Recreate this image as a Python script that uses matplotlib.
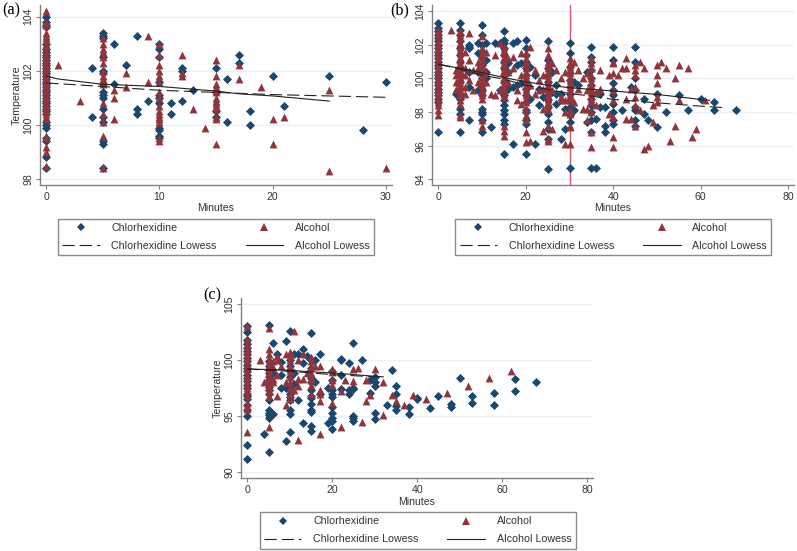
import matplotlib
matplotlib.use('Agg')
import matplotlib.pyplot as plt
from matplotlib.lines import Line2D

plt.rcParams['font.family'] = ['Liberation Sans', 'DejaVu Sans']

# (a) minutes and the temperatures read at each minute
a_chx_min = [0, 4, 5, 6, 7, 8, 9, 10, 11, 12, 13, 15, 16, 17, 18, 20, 21, 25, 28, 30]
a_chx_temp = [
    [98.4, 98.8, 99.4, 99.5, 99.9, 100, 100.1, 100.4, 100.5, 100.6, 100.7, 100.8, 100.9, 101, 101.1, 101.2,
     101.3, 101.4, 101.5, 101.6, 101.7, 101.8, 101.9, 102, 102.1, 102.2, 102.3, 102.4, 102.5, 102.6, 102.7,
     102.8, 103, 103.6, 103.7, 103.8, 104],
    [100.3, 102.1],
    [98.4, 99.3, 99.4, 100.1, 100.3, 100.6, 101, 101.1, 101.2, 101.5, 101.9, 102, 102.5, 103.2, 103.3, 103.4],
    [101.5, 103], [102.2], [100.4, 100.6, 103.3], [100.9],
    [99.5, 99.6, 99.8, 99.9, 100.8, 101, 101.1, 101.6, 102.5, 102.8, 103],
    [100.4, 100.8], [100.9, 102, 102.1], [101.3], [100.3, 100.5, 101.2, 102.1],
    [100.1, 101.7], [102.3, 102.6], [100, 100.5], [101.8], [100.7], [101.8], [99.8], [101.6],
]
a_alc_min = [0, 1, 3, 5, 6, 7, 9, 10, 12, 13, 14, 15, 17, 19, 20, 21, 25, 30]
a_alc_temp = [
    [98.5, 99, 99.2, 99.5, 99.6, 100.2, 100.3, 100.4, 100.5, 100.6, 100.7, 100.8, 100.9, 101, 101.1, 101.2,
     101.3, 101.4, 101.5, 101.6, 101.7, 101.8, 101.9, 102, 102.1, 102.2, 102.3, 102.4, 102.5, 102.6, 102.7,
     102.9, 103, 103.1, 103.2, 103.3, 103.4, 103.7, 103.8, 104.2],
    [102.2], [100.9],
    [98.4, 99.6, 100.1, 100.4, 100.8, 101.5, 101.7, 101.8, 102, 102.3, 102.5, 102.7, 102.8, 103, 103.2],
    [100.2, 101, 101.3], [101.4, 101.9], [101.6, 103.3],
    [99.4, 99.5, 100.1, 100.2, 100.3, 100.4, 100.5, 100.7, 101, 101.2, 101.6, 101.8, 102, 102.2, 102.6, 103],
    [101.8, 101.9, 102.6], [100.6], [99.9],
    [99.3, 100.2, 100.3, 100.6, 100.7, 100.8, 100.9, 101, 101.2, 101.3, 101.4, 101.5, 101.8, 102.4],
    [101.7, 102.2], [101.4], [99.3, 100.2], [100.3], [98.3, 101.3], [98.4],
]
a_chx_low_x = [0, 5, 10, 15, 20, 25, 30]
a_chx_low_y = [101.55, 101.42, 101.28, 101.2, 101.12, 101.07, 101.02]
a_alc_low_x = [0, 1, 5, 10, 15, 17, 20, 25]
a_alc_low_y = [101.8, 101.7, 101.5, 101.42, 101.25, 101.15, 101.07, 100.88]

# (b)
b_chx_min = [0, 4, 5, 7, 9, 10, 11, 12, 13, 14, 15, 16, 17, 18, 19, 20, 21, 22, 23, 24, 25, 26, 27, 28, 29, 30,
             31, 32, 34, 35, 36, 37, 38, 40, 42, 44, 45, 47, 48, 50, 52, 55, 57, 60, 63, 68]
b_chx_temp = [
    [96.8, 98.6, 98.8, 99, 99.2, 99.4, 99.6, 99.8, 100, 100.2, 100.4, 100.6, 100.8, 101, 101.2, 101.4, 101.6,
     101.8, 102, 102.2, 102.4, 102.6, 102.8, 103, 103.3],
    [99.1],
    [96.8, 97.9, 98.2, 98.8, 99, 99.1, 99.4, 99.8, 100.2, 100.6, 101, 101.4, 101.8, 102.2, 102.6, 102.9, 103.3],
    [97.5, 99.5, 100.4, 101.8, 101.9, 102], [99.3, 100.4, 101.5, 102.1],
    [96.8, 97.5, 97.9, 98, 98.2, 99, 99.3, 99.6, 100, 100.4, 100.8, 101.2, 101.6, 102, 102.6, 103.2],
    [100, 100.4, 101.1, 102.1], [97.1], [102.1], [99.3, 102.1],
    [95.5, 97.3, 97.5, 97.9, 98.1, 98.4, 98.7, 99, 99.4, 99.8, 100.2, 100.6, 101, 101.4, 101.8, 102.1, 102.3, 102.8],
    [99.4, 100.4, 100.9], [96.1, 99.5, 102.1], [99.6, 100.8, 102.2], [99.7, 100.9],
    [95.5, 97.3, 97.5, 98, 98.1, 98.6, 99, 99.4, 99.8, 100.2, 100.6, 101, 101.4, 101.8, 102.3],
    [98.8, 100.7], [96.1, 100.2], [98.4, 99.4], [98.9],
    [94.6, 96.4, 97, 97.4, 97.9, 98.3, 98.7, 99, 99.4, 99.8, 100.2, 100.6, 101.1, 102.2],
    [99.2, 100.4], [98.5, 99.1, 99.6], [96.4, 99.1], [97, 98.2],
    [94.7, 97.4, 97.8, 98.1, 98.3, 98.7, 99.1, 99.5, 99.9, 100.3, 100.7, 101.5, 102.1],
    [98.1, 99.8], [99.6], [97.4, 100.4],
    [94.7, 96.8, 97.5, 98, 98.4, 98.8, 99.2, 99.6, 100, 100.5, 101, 101.3, 101.9],
    [94.7, 97.6], [98.3, 99.1], [96.8, 97.2, 98.3],
    [97.3, 97.5, 98, 98.5, 99, 99.3, 99.7, 101.1, 101.9], [98.1], [99.5],
    [97.2, 97.5, 98.1, 98.3, 99.3, 100, 101, 101.9], [97.9, 98.8], [97.5], [97.1, 99.1], [98], [99], [98.1],
    [98.8], [98.1, 98.6], [98.1],
]
b_alc_min = [0, 3, 4, 5, 6, 7, 8, 9, 10, 11, 12, 13, 14, 15, 16, 17, 18, 19, 20, 21, 22, 23, 24, 25, 26, 27, 28, 29,
             30, 31, 32, 33, 34, 35, 36, 37, 39, 40, 41, 42, 43, 44, 45, 46, 47, 48, 49, 50, 51, 52, 53, 54, 55,
             57, 58, 59, 61]
b_alc_temp = [
    [97.8, 98.1, 98.4, 98.6, 98.8, 99, 99.2, 99.4, 99.6, 99.8, 100, 100.2, 100.4, 100.6, 100.8, 101, 101.2,
     101.4, 101.6, 101.8, 102, 102.2, 102.5, 102.7, 102.9],
    [102.9],
    [99.4, 99.8, 100.2, 100.5],
    [97.7, 97.8, 98.5, 98.7, 99, 99.2, 99.3, 99.5, 99.7, 99.9, 100.1, 100.3, 100.5, 100.7, 100.9, 101.1, 101.3,
     101.5, 101.7, 101.9, 102.1, 102.4, 102.6, 102.8],
    [99.1, 99.5, 100.2, 100.6, 101.6], [99.9, 101.1, 102.7], [99.3, 100.5], [99.8, 100.6, 101],
    [97.2, 97.5, 98.8, 99, 99.2, 99.4, 99.6, 99.8, 100, 100.2, 100.4, 100.6, 100.8, 101, 101.2, 101.4, 101.6,
     101.8, 102.5],
    [99.8, 100.3, 101.6], [99.1], [99, 101.4], [99.3, 102.1],
    [96.6, 96.9, 97.2, 98.9, 99.1, 99.3, 99.5, 99.7, 99.9, 100.1, 100.3, 100.5, 100.7, 100.9, 101.1, 101.3, 101.5,
     101.7, 101.9],
    [99.8, 100.4, 101.2], [100.6, 101.3], [98.7, 99.3], [98.5, 100.2, 101.5],
    [96.2, 96.8, 97.5, 97.8, 98.2, 98.6, 98.8, 99, 99.2, 99.4, 99.6, 99.8, 100, 100.2, 100.4, 100.6, 100.8, 101,
     101.2, 101.5],
    [96.3, 99.6, 101.9], [99.1, 100.5], [99.3, 99.9], [96.9, 98.2, 99.4, 100.2],
    [96.3, 96.4, 97.2, 98.2, 98.4, 98.6, 98.8, 99, 99.2, 99.4, 99.6, 99.8, 100, 100.2, 100.4, 100.6, 100.8, 101,
     101.4, 101.8],
    [97, 99.3, 100.9], [100.5], [98.7, 98.9, 100], [96.1, 98, 98.7, 100.4],
    [96.1, 97.1, 97.2, 97.9, 98.1, 98.7, 98.9, 99.1, 99.3, 99.5, 99.7, 99.9, 100.1, 100.3, 100.5, 100.7, 100.9, 101.2],
    [98.6, 101], [99.4, 100.5], [98.2, 100], [97.5, 98.2, 99.3, 100.3],
    [95.9, 96.8, 98, 98.6, 98.8, 99, 99.2, 99.4, 99.6, 99.8, 100, 100.2, 100.6, 100.9, 101.2],
    [98.4, 99.2], [99.4, 100.5], [97.9, 100.2], [95.9, 96.5, 97.7, 98.7, 99.3, 100.3, 100.9, 101], [100.2], [100.6],
    [97.6, 98.8, 100.6, 101.2], [97.6, 99.4], [97.2, 98.4, 98.9, 99.5, 100.2, 100.5, 100.8], [98.1, 101],
    [95.8, 100.6], [96], [97.4, 98.4], [98.6, 98.9, 99.7, 100.2, 100.8], [101], [100.6], [96.3], [97.2, 100],
    [98.7, 100.8], [100.6], [96.5], [97], [98.7],
]
b_chx_low_x = [0, 5, 10, 15, 20, 25, 30, 35, 40, 45, 50, 55, 60, 66]
b_chx_low_y = [100.85, 100.55, 100.2, 99.95, 99.6, 99.35, 99.1, 98.95, 98.75, 98.65, 98.55, 98.45, 98.35, 98.25]
b_alc_low_x = [0, 5, 10, 15, 20, 25, 30, 35, 40, 45, 50, 55, 60, 62]
b_alc_low_y = [100.85, 100.6, 100.35, 100.05, 99.8, 99.6, 99.45, 99.35, 99.25, 99.15, 99.05, 98.9, 98.75, 98.7]
b_ref_line = 30

# (c)
c_chx_min = [0, 4, 5, 6, 7, 8, 9, 10, 11, 12, 13, 14, 15, 16, 17, 19, 20, 22, 24, 25, 27, 29, 30, 33, 34, 35,
             38, 40, 43, 45, 48, 50, 53, 58, 63, 68]
c_chx_temp = [
    [91.2, 92.4, 95, 95.5, 96, 96.5, 96.8, 97, 97.5, 97.8, 98.1, 98.4, 98.7, 99, 99.3, 99.6, 99.9, 100.2, 100.5,
     100.8, 101.1, 101.4, 101.8, 102.5, 103],
    [93.4],
    [91.8, 94.8, 95.1, 95.3, 95.5, 96.4, 97, 97.3, 97.6, 97.9, 98.2, 98.5, 98.8, 99.1, 99.5, 99.9, 103.1],
    [95.2, 98.8, 101.5], [100.5], [97.5, 98.7, 99.8], [92.8, 97.5, 101.7],
    [93.6, 95.2, 95.5, 96.4, 96.7, 97, 97.5, 98.5, 99, 99.5, 100, 102.6],
    [97.9, 98.8, 100.5], [96.4, 100.5], [94.4, 99.7, 101], [100.4],
    [93.7, 94.1, 95.4, 95.5, 96.1, 96.6, 96.8, 97.3, 98, 98.4, 99.3, 100, 102.4],
    [98, 100], [97, 100.5], [94.4, 97.5], [93.8, 94.6, 94.8, 95.3, 95.8, 96.7, 97, 97.3, 98.2, 99],
    [97.4, 98.7, 100, 100.1], [97, 97.3, 99.7], [94.6, 94.8, 95, 97.4, 97.5, 101.5], [100], [97.1, 98.2],
    [94.7, 95.3, 97.7, 98, 98.5], [96], [99.1], [95.5, 95.9, 97, 97.7], [95.2, 95.8], [96.5, 96.6], [95.7],
    [96.8], [95.8, 96.1], [98.4], [96.2, 96.8], [96, 97.1], [97.2, 98.3], [98],
]
c_alc_min = [0, 3, 4, 5, 6, 7, 8, 9, 10, 11, 12, 13, 14, 15, 16, 17, 20, 22, 23, 25, 26, 27, 28, 29, 30, 32, 34,
             35, 37, 39, 42, 47, 52, 57, 62]
c_alc_temp = [
    [93.6, 95.6, 95.9, 96.2, 96.8, 97.2, 97.5, 97.8, 98.1, 98.4, 98.7, 99, 99.3, 99.6, 99.9, 100.2, 100.5, 100.8,
     101.1, 101.4, 101.9, 103],
    [100], [98],
    [94, 96.8, 97.2, 97.5, 97.8, 98, 98.3, 98.6, 98.9, 99.2, 99.6, 100, 100.5, 101, 102.9],
    [98, 98.3, 99.4, 99.9], [96.8, 98.7, 100, 100.4], [99.5], [96, 98, 100.5],
    [96.5, 97, 97.5, 98, 98.5, 99, 99.5, 100, 100.4, 100.7],
    [97.3, 102.6], [92.9, 97.7, 98.3, 100], [98.3, 100.5], [98.8],
    [97, 97.8, 98.2, 98.4, 98.8, 99.4, 99.9, 100.3], [99.5], [93.4, 96.3, 97, 97.3, 99.5],
    [96.2, 97.8, 98.2, 98.9, 99.2], [94, 97.2], [98.2], [98.1, 99.2], [99.3], [94.5], [96.3, 98.2], [96.9], [99.2],
    [95.1, 98], [96.9], [96.3], [96], [96.9], [96.5], [97.1], [97.7], [98.4], [99],
]
c_chx_low_x = [0, 5, 10, 15, 20, 25, 30]
c_chx_low_y = [99.2, 99.1, 99, 98.85, 98.7, 98.6, 98.5]
c_alc_low_x = [0, 5, 10, 15, 20, 25, 30, 32]
c_alc_low_y = [99.2, 99.15, 99.08, 98.95, 98.85, 98.7, 98.55, 98.5]

NAVY = '#1a476f'
MAROON = '#90353b'
GRID = '#eaf2f3'
AXIS = '#808080'
TEXT = '#333333'
W, H = 797, 551
DASH = (0, (11, 4.5))


def flat(mins, temps):
    xs, ys = [], []
    for m, t in zip(mins, temps):
        xs += [m] * len(t)
        ys += t
    return xs, ys


def panel(box, xlim, ylim, xticks, yticks, chx, alc, chx_low, alc_low, legend_box, ylabel=True, ref=None):
    left, top, right, bottom = box
    ax = fig.add_axes([left / W, 1 - bottom / H, (right - left) / W, (bottom - top) / H])
    ax.set_xlim(xlim)
    ax.set_ylim(ylim)
    ax.set_xticks(xticks)
    ax.set_yticks(yticks)
    ax.grid(axis='y', color=GRID, lw=1)
    ax.set_axisbelow(True)
    for s in ['top', 'right']:
        ax.spines[s].set_visible(False)
    for s in ['left', 'bottom']:
        ax.spines[s].set_color(AXIS)
        ax.spines[s].set_linewidth(1)
    ax.tick_params(colors=AXIS, labelcolor=TEXT, labelsize=7.6, length=3, width=0.8, pad=2)
    plt.setp(ax.get_yticklabels(), rotation=90, va='center')
    ax.set_xlabel('Minutes', fontsize=7.6, color=TEXT, labelpad=1)
    if ylabel:
        ax.set_ylabel('Temperature', fontsize=7.6, color=TEXT, labelpad=1)
    if ref is not None:
        ax.axvline(ref, color='#d9566c', lw=1, zorder=1)

    ax.scatter(*flat(*chx), marker='D', s=21, color=NAVY, linewidths=0, zorder=2)
    ax.scatter(*flat(*alc), marker='^', s=32, color=MAROON, linewidths=0, zorder=3)
    ax.plot(*chx_low, color='#222222', lw=0.8, ls=DASH, zorder=4)
    ax.plot(*alc_low, color='#222222', lw=0.8, zorder=4)

    # legend: two columns, filled column by column
    handles = [
        Line2D([], [], marker='D', ms=4.5, color=NAVY, ls='none', mew=0),
        Line2D([], [], color='#222222', lw=0.8, ls=DASH),
        Line2D([], [], marker='^', ms=5.5, color=MAROON, ls='none', mew=0),
        Line2D([], [], color='#222222', lw=0.8),
    ]
    labels = ['Chlorhexidine', 'Chlorhexidine Lowess', 'Alcohol', 'Alcohol Lowess']
    lx0, ly0, lx1, ly1 = legend_box
    leg = fig.legend(handles, labels, ncol=2, mode='expand', numpoints=1, fontsize=7.7,
                     loc='upper left', bbox_to_anchor=(lx0 / W, 1 - ly1 / H, (lx1 - lx0) / W, (ly1 - ly0) / H),
                     fancybox=False, edgecolor='#8a8a8a', framealpha=1, borderpad=0.4, borderaxespad=0,
                     handlelength=3.5, handletextpad=1.1, labelspacing=0.75, columnspacing=1)
    leg.get_frame().set_linewidth(1)
    for t in leg.get_texts():
        t.set_color(TEXT)
    return ax


fig = plt.figure(figsize=(W / 100, H / 100), dpi=100)

panel((40, 5, 392, 185), (-0.556, 30.54), (97.78, 104.43), [0, 10, 20, 30], [98, 100, 102, 104],
      (a_chx_min, a_chx_temp), (a_alc_min, a_alc_temp), (a_chx_low_x, a_chx_low_y), (a_alc_low_x, a_alc_low_y),
      (58, 218.5, 374, 255.5))
panel((432, 5, 794, 185), (-1.44, 81.3), (93.66, 104.37), [0, 20, 40, 60, 80], [94, 96, 98, 100, 102, 104],
      (b_chx_min, b_chx_temp), (b_alc_min, b_alc_temp), (b_chx_low_x, b_chx_low_y), (b_alc_low_x, b_alc_low_y),
      (455.3, 218.5, 771.3, 255.5), ylabel=False, ref=b_ref_line)
panel((241, 298, 593, 478.3), (-1.49, 81.4), (89.44, 105.54), [0, 20, 40, 60, 80], [90, 95, 100, 105],
      (c_chx_min, c_chx_temp), (c_alc_min, c_alc_temp), (c_chx_low_x, c_chx_low_y), (c_alc_low_x, c_alc_low_y),
      (259.7, 512, 575.7, 548.3))

for label, px, py in [('(a)', 2, 10), ('(b)', 390, 10), ('(c)', 203, 295)]:
    fig.text(px / W, 1 - py / H, label, family='Liberation Serif', fontsize=11.7, color='black', va='center')

fig.savefig('out.png', dpi=100)
